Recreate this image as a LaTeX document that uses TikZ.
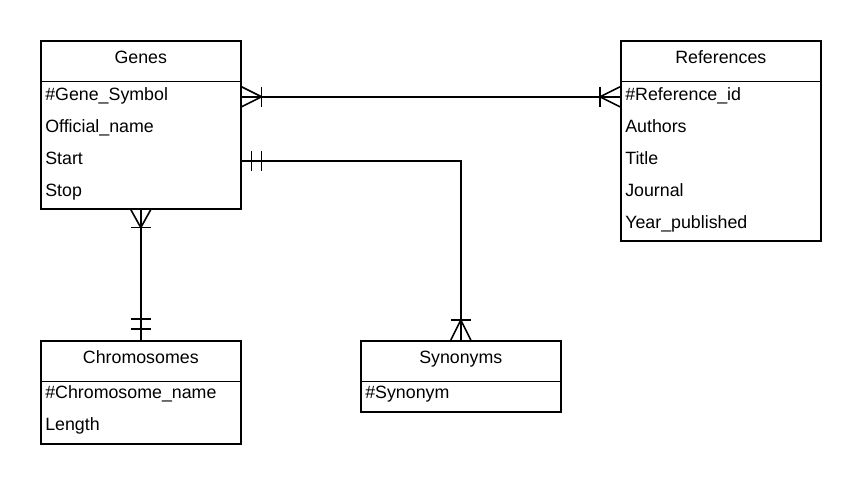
\documentclass[tikz,border=0pt]{standalone}
\usepackage{fontspec}
\setmainfont{Liberation Sans}
\begin{document}
\begin{tikzpicture}[x=1pt,y=-1pt,
  every path/.style={line width=1.6pt},
  entity/.style={draw, line width=1.6pt, anchor=north west, minimum width=200pt, inner sep=0pt},
  etitle/.style={anchor=north west, minimum width=200pt, minimum height=40pt, inner sep=0pt,
    text height=11pt, text depth=5pt, font=\fontsize{17.8}{20}\selectfont},
  erow/.style={anchor=north west, minimum height=32pt, text width=191pt, inner xsep=4.5pt, inner ysep=0pt,
    align=left, text height=11.5pt, text depth=4.5pt, font=\fontsize{17.8}{20}\selectfont},
  hline/.style={line width=1.6pt}
]
\useasboundingbox (0,0) rectangle (860,484);

% Genes
\node[entity, minimum height=168pt] (genes) at (40,40) {};
\node[etitle] (genesT) at (40,40) {Genes};
\draw[hline] (genesT.south west) -- (genesT.south east);
\node[erow] (g1) at (40,80) {\#Gene\_Symbol};
\node[erow] (g2) at (40,112) {Official\_name};
\node[erow] (g3) at (40,144) {Start};
\node[erow] (g4) at (40,176) {Stop};

% References
\node[entity, minimum height=200pt] (refs) at (620,40) {};
\node[etitle] (refsT) at (620,40) {References};
\draw[hline] (refsT.south west) -- (refsT.south east);
\node[erow] (r1) at (620,80) {\#Reference\_id};
\node[erow] (r2) at (620,112) {Authors};
\node[erow] (r3) at (620,144) {Title};
\node[erow] (r4) at (620,176) {Journal};
\node[erow] (r5) at (620,208) {Year\_published};

% Chromosomes
\node[entity, minimum height=103pt] (chr) at (40,340) {};
\node[etitle] (chrT) at (40,340) {Chromosomes};
\draw[hline] (chrT.south west) -- (chrT.south east);
\node[erow] (c1) at (40,378) {\#Chromosome\_name};
\node[erow] (c2) at (40,410) {Length};

% Synonyms
\node[entity, minimum height=71pt] (syn) at (360,340) {};
\node[etitle] (synT) at (360,340) {Synonyms};
\draw[hline] (synT.south west) -- (synT.south east);
\node[erow] (s1) at (360,378) {\#Synonym};

% Genes -- References (one or many on both ends)
\draw (g1.east) -- (r1.west);
\draw ([yshift=10pt]g1.east) -- ([xshift=20pt]g1.east) -- ([yshift=-10pt]g1.east);
\draw ([xshift=20pt,yshift=10pt]g1.east) -- ([xshift=20pt,yshift=-10pt]g1.east);
\draw ([yshift=10pt]r1.west) -- ([xshift=-20pt]r1.west) -- ([yshift=-10pt]r1.west);
\draw ([xshift=-20pt,yshift=10pt]r1.west) -- ([xshift=-20pt,yshift=-10pt]r1.west);

% Genes Start -- Synonyms
\draw (g3.east) -| (syn.north);
\draw ([xshift=10pt,yshift=10pt]g3.east) -- ([xshift=10pt,yshift=-10pt]g3.east);
\draw ([xshift=20pt,yshift=10pt]g3.east) -- ([xshift=20pt,yshift=-10pt]g3.east);
\draw ([xshift=-10pt]syn.north) -- ([yshift=20pt]syn.north) -- ([xshift=10pt]syn.north);
\draw ([xshift=-10pt,yshift=20pt]syn.north) -- ([xshift=10pt,yshift=20pt]syn.north);

% Genes -- Chromosomes
\draw (genes.south) -- (chr.north);
\draw ([xshift=-10pt]genes.south) -- ([yshift=-18pt]genes.south) -- ([xshift=10pt]genes.south);
\draw ([xshift=-10pt,yshift=-18pt]genes.south) -- ([xshift=10pt,yshift=-18pt]genes.south);
\draw ([xshift=-10pt,yshift=11pt]chr.north) -- ([xshift=10pt,yshift=11pt]chr.north);
\draw ([xshift=-10pt,yshift=21pt]chr.north) -- ([xshift=10pt,yshift=21pt]chr.north);
\end{tikzpicture}
\end{document}
